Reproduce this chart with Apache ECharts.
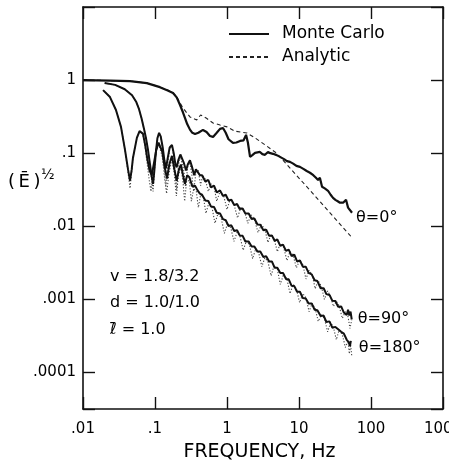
<!DOCTYPE html>
<html>
<head>
<meta charset="utf-8">
<script src="https://cdn.jsdelivr.net/npm/echarts@6/dist/echarts.min.js"></script>
<style>
  html, body { margin: 0; padding: 0; background: #fff; }
  #chart { width: 449px; height: 468px; }
</style>
</head>
<body>
<div id="chart"></div>
<script>
// Axis tick labels (frequency in Hz, amplitude ratio)
const xTickValues = [0.01, 0.1, 1, 10, 100, 1000];
const xTickLabels = ['.01', '.1', '1', '10', '100', '1000'];
const yTickValues = [0.0001, 0.001, 0.01, 0.1, 1];
const yTickLabels = ['.0001', '.001', '.01', '.1', '1'];

// theta = 0 deg : [frequency Hz, (E)^1/2]
const mc0 = [[0.010,1.0],[0.0237,0.985],[0.045,0.97],[0.077,0.91],[0.117,0.80],[0.15,0.72],[0.178,0.665],[0.20,0.58],[0.222,0.46],[0.245,0.36],[0.262,0.30],[0.280,0.25],[0.306,0.21],[0.33,0.19],[0.36,0.183],[0.40,0.19],[0.464,0.208],[0.52,0.195],[0.58,0.172],[0.64,0.167],[0.72,0.19],[0.80,0.215],[0.88,0.221],[0.96,0.19],[1.05,0.155],[1.21,0.138],[1.35,0.14],[1.52,0.147],[1.7,0.15],[1.84,0.178],[1.95,0.14],[2.09,0.089],[2.25,0.094],[2.45,0.101],[2.6,0.098],[2.87,0.104],[3.1,0.097],[3.37,0.095],[3.71,0.104],[4.0,0.1],[4.35,0.098],[4.9,0.094],[5.45,0.089],[6.2,0.083],[6.8,0.078],[7.5,0.076],[8.3,0.072],[9.2,0.067],[10.3,0.065],[11.5,0.061],[12.8,0.057],[14.2,0.054],[15.8,0.05],[17.2,0.046],[18.4,0.043],[19.5,0.046],[20.9,0.0347],[22.8,0.033],[25.3,0.0306],[27.5,0.027],[29.7,0.0245],[32,0.023],[34.5,0.022],[37.1,0.021],[41,0.021],[45,0.023],[48,0.018],[51,0.017],[54.5,0.0153]];
const an0 = [[0.010,1.0],[0.0237,0.985],[0.045,0.97],[0.077,0.91],[0.117,0.80],[0.15,0.73],[0.178,0.67],[0.20,0.59],[0.245,0.415],[0.306,0.313],[0.38,0.285],[0.43,0.333],[0.52,0.30],[0.64,0.259],[0.80,0.243],[1.0,0.229],[1.29,0.20],[1.89,0.189],[2.45,0.162],[3.37,0.13],[4.64,0.104],[5.45,0.089],[17.1,0.0253],[54.5,0.007]];

// theta = 90 deg
const mc90 = [[0.020,0.91],[0.028,0.86],[0.038,0.75],[0.048,0.62],[0.055,0.50],[0.060,0.40],[0.065,0.30],[0.070,0.22],[0.075,0.16],[0.080,0.11],[0.085,0.072],[0.090,0.048],[0.094,0.038],[0.098,0.058],[0.103,0.105],[0.108,0.16],[0.114,0.19],[0.120,0.17],[0.128,0.12],[0.135,0.08],[0.142,0.062],[0.150,0.085],[0.160,0.12],[0.172,0.13],[0.182,0.10],[0.192,0.07],[0.200,0.064],[0.212,0.082],[0.225,0.096],[0.237,0.094],[0.250,0.075],[0.270,0.058],[0.285,0.07],[0.306,0.08],[0.325,0.066],[0.350,0.05],[0.37,0.06],[0.39,0.062],[0.42,0.05],[0.45,0.050],[0.5,0.041],[0.55,0.043],[0.6,0.034],[0.66,0.036],[0.72,0.029],[0.8,0.031],[0.88,0.026],[0.96,0.027],[1.05,0.0225],[1.15,0.023],[1.26,0.0195],[1.38,0.0202],[1.5,0.0172],[1.65,0.0175],[1.8,0.0149],[2.0,0.0150],[2.2,0.0126],[2.4,0.0128],[2.65,0.0106],[2.9,0.0105],[3.2,0.0088],[3.5,0.0090],[3.85,0.0074],[4.2,0.0075],[4.6,0.0063],[5.0,0.0066],[5.5,0.0054],[6.0,0.0056],[6.6,0.0046],[7.2,0.0048],[7.9,0.0039],[8.6,0.0041],[9.4,0.0033],[10.3,0.0034],[11.3,0.0028],[12.4,0.0028],[13.6,0.0023],[15,0.0022],[16.5,0.00183],[18,0.00178],[20,0.00142],[22,0.00142],[24,0.00118],[26.5,0.00115],[29,0.00096],[32,0.00095],[35,0.00079],[38.5,0.00080],[42,0.00066],[46,0.00061],[48,0.00072],[50,0.00060],[52,0.00068],[54,0.00053]];
const an90 = [[0.020,0.91],[0.028,0.86],[0.038,0.75],[0.048,0.62],[0.055,0.50],[0.060,0.40],[0.065,0.30],[0.070,0.22],[0.075,0.16],[0.080,0.11],[0.085,0.07],[0.090,0.042],[0.094,0.030],[0.098,0.055],[0.103,0.105],[0.108,0.16],[0.114,0.19],[0.120,0.17],[0.128,0.11],[0.135,0.06],[0.142,0.035],[0.150,0.07],[0.160,0.115],[0.172,0.125],[0.182,0.09],[0.192,0.05],[0.200,0.032],[0.212,0.07],[0.225,0.09],[0.237,0.088],[0.250,0.06],[0.265,0.035],[0.285,0.065],[0.306,0.075],[0.325,0.05],[0.345,0.03],[0.37,0.055],[0.40,0.058],[0.43,0.036],[0.46,0.05],[0.5,0.044],[0.55,0.03],[0.6,0.038],[0.66,0.035],[0.72,0.022],[0.8,0.03],[0.9,0.026],[1.0,0.017],[1.1,0.023],[1.25,0.02],[1.4,0.013],[1.55,0.018],[1.75,0.016],[1.95,0.011],[2.15,0.0143],[2.4,0.0125],[2.7,0.0082],[3.0,0.0105],[3.35,0.0092],[3.7,0.006],[4.1,0.0077],[4.5,0.0068],[5.0,0.0045],[5.5,0.0058],[6.1,0.0052],[6.8,0.0034],[7.5,0.0045],[8.3,0.004],[9.2,0.0027],[10.2,0.0034],[11.3,0.003],[12.5,0.0019],[13.8,0.0025],[15.2,0.0022],[16.8,0.0014],[18.5,0.0018],[20.5,0.0015],[22.5,0.001],[25,0.0013],[27.5,0.0011],[30,0.0008],[33,0.00094],[36,0.00082],[40,0.00055],[44,0.00068],[48,0.00058],[51,0.0004],[54,0.00052]];

// theta = 180 deg
const mc180 = [[0.019,0.73],[0.0237,0.586],[0.0287,0.39],[0.0337,0.229],[0.0383,0.111],[0.0422,0.06],[0.045,0.042],[0.0475,0.06],[0.0494,0.086],[0.056,0.162],[0.061,0.2],[0.064,0.208],[0.068,0.185],[0.073,0.13],[0.078,0.085],[0.084,0.058],[0.090,0.05],[0.096,0.07],[0.104,0.11],[0.112,0.14],[0.118,0.142],[0.126,0.105],[0.136,0.065],[0.147,0.045],[0.158,0.07],[0.172,0.092],[0.186,0.06],[0.200,0.042],[0.215,0.06],[0.229,0.07],[0.245,0.05],[0.26,0.038],[0.28,0.05],[0.30,0.047],[0.33,0.035],[0.36,0.036],[0.39,0.031],[0.42,0.028],[0.45,0.027],[0.5,0.0225],[0.55,0.0222],[0.6,0.0186],[0.66,0.0184],[0.72,0.0153],[0.8,0.0150],[0.88,0.0125],[0.96,0.0121],[1.05,0.0101],[1.15,0.0103],[1.26,0.0086],[1.38,0.0088],[1.5,0.0075],[1.65,0.0074],[1.8,0.0062],[2.0,0.0062],[2.2,0.0053],[2.4,0.0053],[2.65,0.0045],[2.9,0.0045],[3.2,0.0038],[3.5,0.0039],[3.85,0.0033],[4.2,0.0033],[4.6,0.0027],[5.0,0.0027],[5.5,0.0023],[6.0,0.0023],[6.6,0.0019],[7.2,0.00188],[7.9,0.00153],[8.6,0.00152],[9.4,0.00127],[10.3,0.00127],[11.3,0.00104],[12.4,0.00103],[13.6,0.00088],[15,0.00088],[16.5,0.00072],[18,0.00071],[20,0.00059],[22,0.00060],[24,0.00049],[26.5,0.00050],[29,0.00041],[32,0.00042],[35,0.00039],[38.5,0.00036],[42,0.00034],[46,0.00028],[49,0.00026],[51,0.00023],[52.5,0.00027]];
const an180 = [[0.019,0.73],[0.0237,0.586],[0.0287,0.39],[0.0337,0.229],[0.0383,0.111],[0.0422,0.055],[0.045,0.033],[0.0475,0.055],[0.0494,0.086],[0.056,0.162],[0.061,0.2],[0.064,0.205],[0.068,0.18],[0.073,0.12],[0.078,0.07],[0.084,0.04],[0.088,0.03],[0.093,0.05],[0.104,0.105],[0.112,0.135],[0.118,0.135],[0.126,0.09],[0.136,0.045],[0.145,0.028],[0.155,0.05],[0.172,0.085],[0.186,0.05],[0.198,0.026],[0.212,0.05],[0.229,0.065],[0.245,0.04],[0.258,0.022],[0.275,0.042],[0.30,0.042],[0.32,0.022],[0.345,0.033],[0.375,0.03],[0.40,0.018],[0.43,0.027],[0.47,0.025],[0.51,0.015],[0.56,0.021],[0.62,0.018],[0.68,0.011],[0.75,0.015],[0.83,0.013],[0.92,0.008],[1.02,0.011],[1.13,0.0095],[1.25,0.0062],[1.38,0.0083],[1.52,0.0072],[1.68,0.0047],[1.86,0.0063],[2.05,0.0056],[2.27,0.0036],[2.5,0.0049],[2.75,0.0044],[3.05,0.0028],[3.35,0.0037],[3.7,0.0033],[4.1,0.0021],[4.5,0.0029],[5.0,0.0026],[5.5,0.0016],[6.1,0.0022],[6.8,0.0019],[7.5,0.0012],[8.3,0.0016],[9.2,0.0014],[10.2,0.0009],[11.3,0.0012],[12.5,0.00105],[13.8,0.00068],[15.2,0.00088],[16.8,0.00075],[18.5,0.0005],[20.5,0.00062],[22.5,0.00055],[25,0.00036],[27.5,0.00048],[30,0.00042],[33,0.00028],[36,0.00038],[40,0.00033],[44,0.00022],[48,0.00027],[50,0.00018],[52,0.00024],[54,0.00017]];

const FONT = 'DejaVu Sans';
const INK = '#111';

function decadeLabel(values, labels) {
  return function (v) {
    for (let i = 0; i < values.length; i++) {
      if (Math.abs(Math.log10(v) - Math.log10(values[i])) < 1e-6) return labels[i];
    }
    return '';
  };
}

const frameLine = { lineStyle: { color: INK, width: 1.6 } };
const innerTick = { inside: true, length: 12, lineStyle: { color: INK, width: 1.4 } };

function logX(extra) {
  return Object.assign({
    type: 'log', logBase: 10, min: 0.01, max: 1000,
    axisLine: frameLine, axisTick: innerTick,
    minorTick: { show: false }, splitLine: { show: false }, minorSplitLine: { show: false }
  }, extra);
}
function logY(extra) {
  return Object.assign({
    type: 'log', logBase: 10, min: Math.pow(10, -4.5), max: 10,
    axisLine: frameLine, axisTick: innerTick,
    minorTick: { show: false }, splitLine: { show: false }, minorSplitLine: { show: false }
  }, extra);
}

function mcSeries(data, label, width, offset) {
  return {
    name: 'Monte Carlo', type: 'line', data: data, symbol: 'none', smooth: false,
    lineStyle: { color: INK, width: width, type: 'solid' },
    itemStyle: { color: INK },
    z: 3,
    endLabel: {
      show: true, formatter: label, color: '#000', fontFamily: FONT, fontSize: 16,
      distance: 4, offset: offset
    }
  };
}
function anSeries(data, dash, width, color) {
  return {
    name: 'Analytic', type: 'line', data: data, symbol: 'none', smooth: false,
    lineStyle: { color: color, width: width, type: dash },
    itemStyle: { color: color },
    z: 2
  };
}

const chart = echarts.init(document.getElementById('chart'), null, { renderer: 'canvas' });
chart.setOption({
  animation: false,
  backgroundColor: '#fff',
  grid: { left: 83, right: 6, top: 7, bottom: 59, containLabel: false, outerBoundsMode: 'none' },
  legend: {
    data: ['Monte Carlo', 'Analytic'],
    orient: 'vertical', left: 228, top: 25, padding: 0,
    itemWidth: 40, itemHeight: 14, itemGap: 5,
    selectedMode: false,
    itemStyle: { opacity: 0 },
    textStyle: { color: '#000', fontFamily: FONT, fontSize: 17, lineHeight: 18, padding: [0, 0, 0, 8] }
  },
  xAxis: [
    logX({
      position: 'bottom',
      axisLabel: { formatter: decadeLabel(xTickValues, xTickLabels), color: '#000', fontFamily: FONT, fontSize: 15, margin: 13, showMinLabel: true, showMaxLabel: true, hideOverlap: false },
      name: 'FREQUENCY, Hz', nameLocation: 'middle', nameGap: 34,
      nameTextStyle: { color: '#000', fontFamily: FONT, fontSize: 19, padding: [0, 7, 0, 0] }
    }),
    logX({ position: 'top', axisLabel: { show: false } })
  ],
  yAxis: [
    logY({
      position: 'left',
      axisLabel: { formatter: decadeLabel(yTickValues, yTickLabels), color: '#000', fontFamily: FONT, fontSize: 15, margin: 7, showMinLabel: true, showMaxLabel: true, hideOverlap: false }
    }),
    logY({ position: 'right', axisLabel: { show: false } })
  ],
  graphic: [
    { type: 'text', left: 8, top: 173, style: { text: '(\u2009\u0112\u2009)', fill: '#000', font: '18px "DejaVu Sans"' } },
    { type: 'text', left: 41, top: 168, style: { text: '\u00bd', fill: '#000', font: '14px "DejaVu Sans"' } },
    { type: 'text', left: 110, top: 269, style: { text: 'v = 1.8/3.2', fill: '#000', font: '16px "DejaVu Sans"' } },
    { type: 'text', left: 110, top: 295, style: { text: 'd = 1.0/1.0', fill: '#000', font: '16px "DejaVu Sans"' } },
    { type: 'text', left: 110, top: 322, style: { text: '\u2113\u0304 = 1.0', fill: '#000', font: '16px "DejaVu Sans"' } }
  ],
  series: [
    anSeries(an0, [4, 3], 1.1, '#222'),
    anSeries(an90, [1.2, 1.8], 1.1, '#444'),
    anSeries(an180, [1.2, 1.8], 1.1, '#444'),
    mcSeries(mc0, '\u03b8=0\u00b0', 2.2, [0, 5]),
    mcSeries(mc90, '\u03b8=90\u00b0', 2, [2, -1]),
    mcSeries(mc180, '\u03b8=180\u00b0', 2, [4, 7])
  ]
});
</script>
</body>
</html>
